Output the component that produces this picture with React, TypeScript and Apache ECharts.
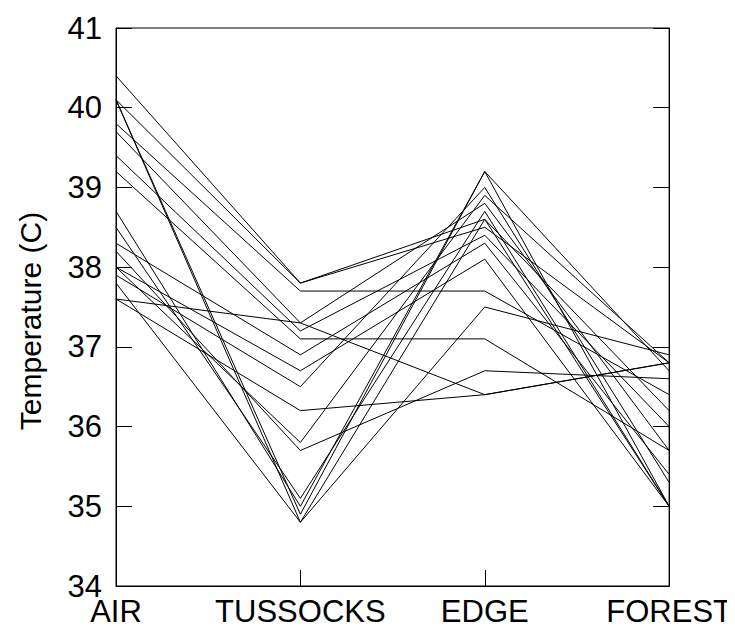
import React, { useEffect, useRef } from "react";
import * as echarts from "echarts";

const categories = ["AIR", "TUSSOCKS", "EDGE", "FOREST"];
const yTicks = { min: 34, max: 41, interval: 1 };
const yTitle = "Temperature (C)";

const line01 = [40.4, 37.8, 38.6, 36.2];
const line02 = [40.1, 37.8, 38.5, 36.8];
const line03 = [40.1, 34.9, 39.2, 35.0];
const line04 = [40.1, 34.8, 37.5, 36.9];
const line05 = [39.8, 37.7, 37.7, 36.4];
const line06 = [39.7, 37.3, 38.8, 35.7];
const line07 = [39.4, 37.2, 38.4, 36.0];
const line08 = [39.2, 37.1, 37.1, 35.7];
const line09 = [38.7, 35.0, 39.2, 36.7];
const line10 = [38.5, 35.1, 38.7, 35.0];
const line11 = [38.3, 36.9, 38.3, 35.4];
const line12 = [38.2, 35.7, 36.7, 36.6];
const line13 = [38.0, 36.7, 38.1, 35.0];
const line14 = [38.0, 35.8, 38.9, 36.8];
const line15 = [37.9, 36.5, 39.0, 35.3];
const line16 = [37.6, 37.3, 36.4, 36.8];
const line17 = [37.6, 36.2, 36.4, 36.8];
const line18 = [37.8, 34.8, 38.6, 35.0];

const lines = [
  line01, line02, line03, line04, line05, line06, line07, line08, line09,
  line10, line11, line12, line13, line14, line15, line16, line17, line18,
];

export default function App() {
  const ref = useRef<HTMLDivElement>(null);
  useEffect(() => {
    if (!ref.current) return;
    const chart = echarts.init(ref.current, null, { renderer: "svg" });
    const font = "'Liberation Sans', Arial, sans-serif";
    chart.setOption({
      animation: false,
      backgroundColor: "#ffffff",
      grid: {
        left: 116,
        right: 63,
        top: 28,
        bottom: 44,
        show: true,
        borderColor: "#000",
        borderWidth: 1,
        containLabel: false,
      },
      graphic: [
        {
          type: "text",
          x: 30,
          y: 321,
          rotation: Math.PI / 2,
          style: {
            text: yTitle,
            fill: "#000",
            fontSize: 30,
            fontFamily: font,
            textAlign: "center",
            textVerticalAlign: "middle",
          },
        },
      ],
      xAxis: {
        type: "category",
        data: categories,
        boundaryGap: false,
        axisLine: { lineStyle: { color: "#000", width: 1 } },
        axisTick: { show: true, inside: true, length: 16, lineStyle: { color: "#000" } },
        axisLabel: {
          color: "#000",
          fontSize: 31,
          lineHeight: 26,
          fontFamily: font,
          margin: 12,
          interval: 0,
          hideOverlap: false,
        },
        splitLine: { show: false },
      },
      yAxis: [
        {
          type: "value",
          min: yTicks.min,
          max: yTicks.max,
          interval: yTicks.interval,
          axisLine: { show: true, lineStyle: { color: "#000", width: 1 } },
          axisTick: { show: true, inside: true, length: 16, lineStyle: { color: "#000" } },
          axisLabel: { color: "#000", fontSize: 31, lineHeight: 24, fontFamily: font, margin: 14 },
          splitLine: { show: false },
        },
        {
          type: "value",
          position: "right",
          min: yTicks.min,
          max: yTicks.max,
          interval: yTicks.interval,
          axisLine: { show: true, lineStyle: { color: "#000", width: 1 } },
          axisTick: { show: true, inside: true, length: 16, lineStyle: { color: "#000" } },
          axisLabel: { show: false },
          splitLine: { show: false },
        },
      ],
      series: lines.map((d, i) => ({
        name: "s" + (i + 1),
        type: "line",
        data: d,
        symbol: "none",
        lineStyle: { color: "#000", width: 1 },
        silent: true,
      })),
    });
    return () => chart.dispose();
  }, []);
  return <div ref={ref} style={{ width: 735, height: 630, margin: -8 }} />;
}
